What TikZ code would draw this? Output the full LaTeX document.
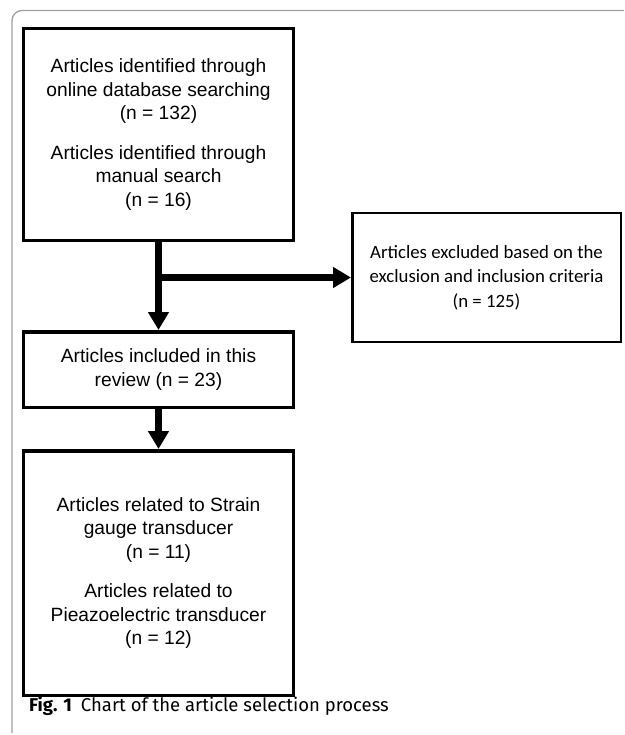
\documentclass[tikz,border=0pt]{standalone}
\usepackage{fontspec}
\setmainfont{Liberation Sans}
\newfontfamily\boxfont{Carlito}
\newfontfamily\capfont{Fira Sans}
\usepackage{tikz}
\usetikzlibrary{
  calc,                  % Coordinate math
  arrows.meta            % Triangle tips
}

\begin{document}
\begin{tikzpicture}[x=1pt, y=-1pt,
    stagebox/.style={draw, line width=3.5pt, align=center, inner sep=0pt,
      font=\fontsize{19.2}{23.5}\selectfont},
    sidebox/.style={draw, line width=2.5pt, align=center, inner sep=0pt,
      font=\boxfont\fontsize{18.8}{24.5}\selectfont},
    flow/.style={line width=7.5pt, -{Triangle[length=18pt, width=20pt]}}]
        \useasboundingbox (0,0) rectangle (624,735);

        % Outer figure frame
        \draw[gray!75, line width=1.3pt, rounded corners=10pt]
            (12,733) -- (12,10.5) -- (624,10.5);

        % Main stage boxes
        \node[stagebox, minimum width=270pt, minimum height=211.5pt] (ident) at (158.5,134.5)
            {Articles identified through\\online database searching\\(n = 132)\\[16pt]
             Articles identified through\\manual search\\(n = 16)};
        \node[stagebox, minimum width=270pt, minimum height=75.5pt] (incl) at (158.5,369.5)
            {Articles included in this\\review (n = 23)};
        \node[stagebox, minimum width=270pt, minimum height=244.5pt] (rel) at (158.5,573)
            {Articles related to Strain\\gauge transducer\\(n = 11)\\[16pt]
             Articles related to\\Pieazoelectric transducer\\(n = 12)};

        % Excluded articles box
        \node[sidebox, minimum width=268.5pt, minimum height=128.5pt] (excl) at (486.5,277.5)
            {Articles excluded based on the\\exclusion and inclusion criteria\\(n = 125)};

        % Arrows between stages
        \draw[flow] (ident.south) -- (incl.north);
        \draw[flow] (ident.south |- excl.west) -- (excl.west);
        \draw[flow] (incl.south) -- (rel.north);

        % Caption
        \node[anchor=base west, inner sep=0pt, font=\capfont\fontsize{18.5}{22}\selectfont] (cap) at (29,711)
            {\textbf{Fig. 1}\hspace{9pt}Chart of the article selection process};

    \end{tikzpicture}
\end{document}
